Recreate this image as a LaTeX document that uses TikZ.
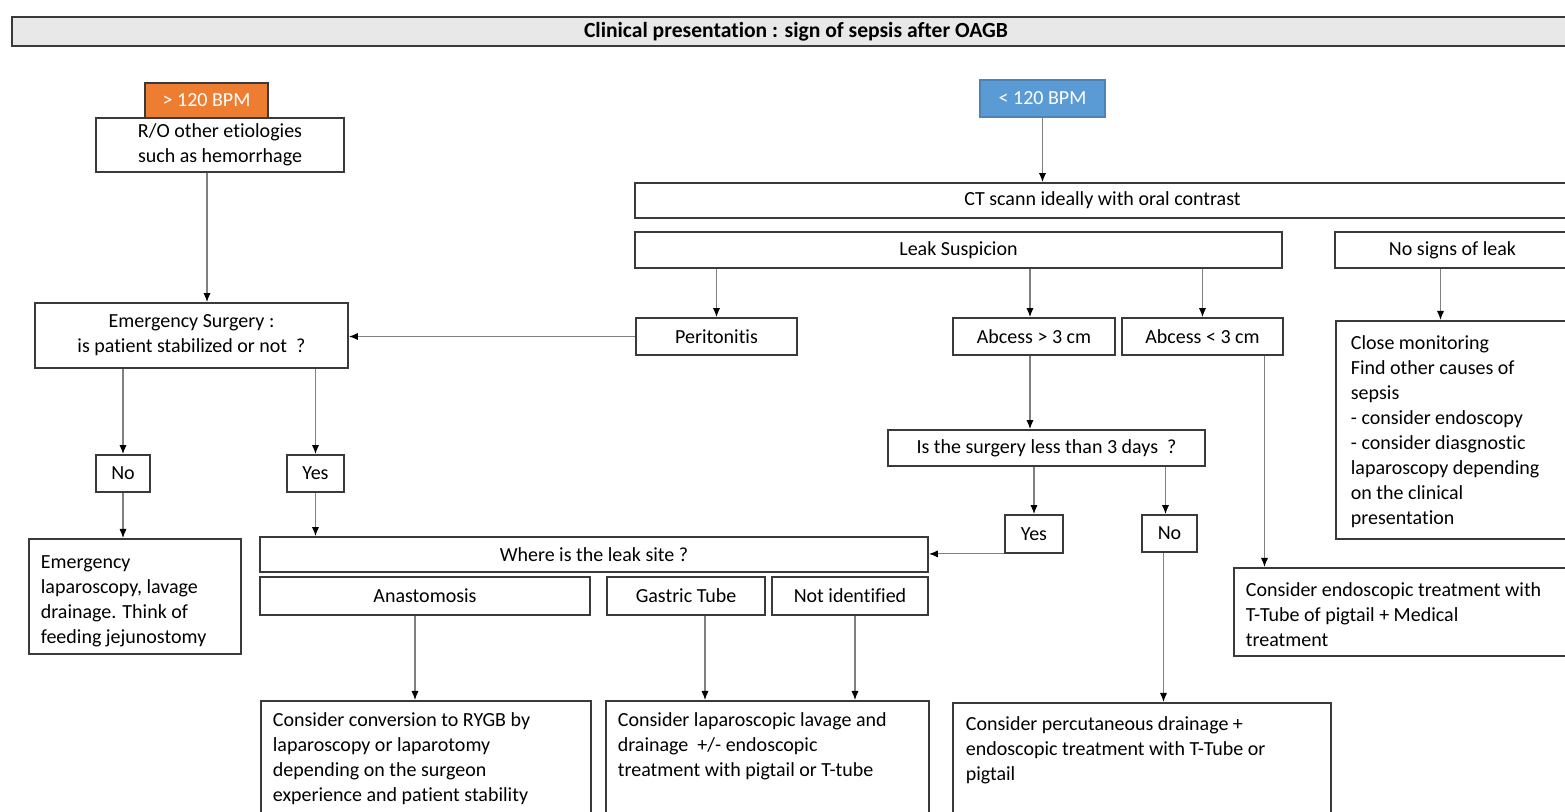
\documentclass[tikz,border=0pt]{standalone}
\usepackage{fontspec}
\setmainfont{Carlito}[RawFeature={-liga;-clig;-calt;-dlig}]
\usetikzlibrary{arrows.meta,calc}
\definecolor{boxc}{HTML}{3A3A3A}
\definecolor{orangeb}{HTML}{ED7D31}
\definecolor{blueb}{HTML}{5B9BD5}
\definecolor{titlefill}{HTML}{E8E8E8}
\definecolor{arrc}{HTML}{808080}
\newcommand{\tbx}[4]{\begin{minipage}[c][#2][t]{#1}\raggedright\rule{0pt}{#3}#4\end{minipage}}
\begin{document}
\begin{tikzpicture}[x=0.5pt,y=-0.5pt,
  font=\fontsize{10}{12.5}\selectfont,
  bx/.style={draw=boxc,line width=0.9pt,rectangle,inner sep=0pt,align=center,fill=white},
  tb/.style={draw=boxc,line width=0.9pt,rectangle,fill=white,anchor=north west,inner ysep=0pt},
  arr/.style={draw=arrc,line width=0.6pt,-{Latex[length=4.5pt,width=3.6pt,color=black]}}]
\useasboundingbox (0,0) rectangle (1565,812);
\clip (0,0) rectangle (1565,812);

\node[bx,fill=titlefill,minimum width=784pt,minimum height=14.5pt,font=\fontsize{10.8}{12}\selectfont\bfseries] (title) at (796,31.5) {Clinical presentation : sign of sepsis after OAGB};

\node[bx,fill=orangeb,text=white,minimum width=61.5pt,minimum height=17.5pt] (fast) at (206.5,100.5) {> 120 BPM};
\node[bx,minimum width=124pt,minimum height=27pt] (ro) at (220,145) {R/O other etiologies\\such as hemorrhage};
\node[bx,fill=blueb,draw=blueb!85!black,text=white,minimum width=62.5pt,minimum height=18.5pt] (slow) at (1042.5,98.5) {< 120 BPM};

\node[bx,minimum width=467.5pt,minimum height=17.5pt] (ct) at (1102.5,200.5) {CT scann ideally with oral contrast};
\node[bx,minimum width=323.5pt,minimum height=18pt] (leak) at (958.5,250) {Leak Suspicion};
\node[bx,minimum width=117.5pt,minimum height=18pt] (nosign) at (1452.5,250) {No signs of leak};

\node[bx,minimum width=156.5pt,minimum height=32.5pt] (emerg) at (191.5,335.5) {Emergency Surgery :\\is patient stabilized or not~ ?};
\node[bx,minimum width=80.5pt,minimum height=18.5pt] (peri) at (716.5,336.5) {Peritonitis};
\node[bx,minimum width=81pt,minimum height=18.5pt] (abg) at (1034,336.5) {Abcess > 3 cm};
\node[bx,minimum width=80.5pt,minimum height=18.5pt] (abl) at (1202.5,336.5) {Abcess < 3 cm};

\node[tb,minimum width=122.5pt,minimum height=109pt,inner xsep=7.5pt] (close) at (1335,320) {\tbx{107.5pt}{109pt}{14.5pt}{Close monitoring\\Find other causes of\\sepsis\\- consider endoscopy\\- consider diasgnostic\\laparoscopy depending\\on the clinical\\presentation}};

\node[bx,minimum width=158.5pt,minimum height=18pt] (surg) at (1046.5,448) {Is the surgery less than 3 days~ ?};
\node[bx,minimum width=27pt,minimum height=18.5pt] (no1) at (123,473.5) {No};
\node[bx,minimum width=28.5pt,minimum height=18.5pt] (yes1) at (315.5,473.5) {Yes};
\node[bx,minimum width=29pt,minimum height=19pt] (yes2) at (1034,534) {Yes};
\node[bx,minimum width=27.5pt,minimum height=18.5pt] (no2) at (1169.5,533.5) {No};

\node[tb,minimum width=106pt,minimum height=57.5pt,inner xsep=6pt] (emlap) at (28,538) {\tbx{94pt}{57.5pt}{15pt}{Emergency\\laparoscopy, lavage\\drainage. Think of\\feeding jejunostomy}};
\node[bx,minimum width=334pt,minimum height=17.5pt] (where) at (594,554.5) {Where is the leak site ?};
\node[bx,minimum width=165pt,minimum height=19pt] (anast) at (425,596) {Anastomosis};
\node[bx,minimum width=79pt,minimum height=19pt] (gast) at (686,596) {Gastric Tube};
\node[bx,minimum width=78pt,minimum height=19pt] (notid) at (850,596) {Not identified};
\node[tb,minimum width=173.5pt,minimum height=44pt,inner xsep=6pt] (endo) at (1233,567) {\tbx{161.5pt}{44pt}{14.5pt}{Consider endoscopic treatment with\\T-Tube of pigtail + Medical\\treatment}};

\node[tb,minimum width=165pt,minimum height=65pt,inner xsep=6pt] (conv) at (260,700) {\tbx{153pt}{65pt}{13pt}{Consider conversion to RYGB by\\laparoscopy or laparotomy\\depending on the surgeon\\experience and patient stability}};
\node[tb,minimum width=161.5pt,minimum height=65pt,inner xsep=6pt] (lap) at (605,700) {\tbx{149.5pt}{65pt}{13pt}{Consider laparoscopic lavage and\\drainage~ +/- endoscopic\\treatment with pigtail or T-tube}};
\node[tb,minimum width=189pt,minimum height=64pt,inner xsep=6.5pt] (perc) at (952,702) {\tbx{176pt}{64pt}{14pt}{Consider percutaneous drainage +\\endoscopic treatment with T-Tube or\\pigtail}};

% connectors
\draw[arr] ([xshift=-6.5pt]ro.south) -- ([xshift=-6.5pt]ro.south |- emerg.north);
\draw[arr] (slow.south) -- (slow.south |- ct.north);
\draw[arr] (peri.north |- leak.south) -- (peri.north);
\draw[arr] ([xshift=-2pt]abg.north |- leak.south) -- ([xshift=-2pt]abg.north);
\draw[arr] (abl.north |- leak.south) -- (abl.north);
\draw[arr] ([xshift=-6pt]nosign.south) -- ([xshift=-6pt]nosign.south |- close.north);
\draw[arr] (peri.west) -- (peri.west -| emerg.east);
\draw[arr] ([xshift=-2pt]abg.south) -- ([xshift=-2pt]abg.south |- surg.north);
\draw[arr] (yes2.north |- surg.south) -- (yes2.north);
\draw[arr] ([xshift=-2pt]no2.north |- surg.south) -- ([xshift=-2pt]no2.north);
\draw[arr] (yes2.south west) -- (yes2.south west -| where.east);
\draw[arr] ([xshift=-3pt]no2.south) -- ([xshift=-3pt]no2.south |- perc.north);
\draw[arr] ([xshift=31pt]abl.south) -- ([xshift=31pt]abl.south |- endo.north);
\draw[arr] (no1.north |- emerg.south) -- (no1.north);
\draw[arr] (yes1.north |- emerg.south) -- (yes1.north);
\draw[arr] (no1.south) -- (no1.south |- emlap.north);
\draw[arr] (yes1.south) -- (yes1.south |- where.north);
\draw[arr] ([xshift=-5pt]anast.south) -- ([xshift=-5pt]anast.south |- conv.north);
\draw[arr] ([xshift=9.5pt]gast.south) -- ([xshift=9.5pt]gast.south |- lap.north);
\draw[arr] ([xshift=2.5pt]notid.south) -- ([xshift=2.5pt]notid.south |- lap.north);
\end{tikzpicture}
\end{document}
